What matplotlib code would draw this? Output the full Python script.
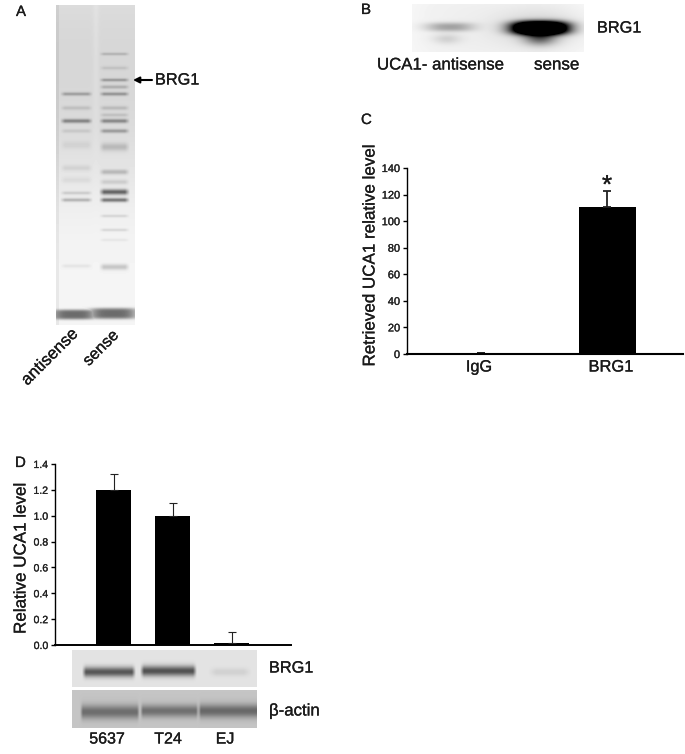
import numpy as np
import matplotlib
matplotlib.use("Agg")
import matplotlib.pyplot as plt
import matplotlib.patheffects as pe

W, H = 685, 754
plt.rcParams['font.family'] = ['Liberation Sans', 'DejaVu Sans']

# --- chart data
c_categories = ["IgG", "BRG1"]
c_values = [0.6, 111]
c_errors = [0.4, 12]
c_ticks = [0, 20, 40, 60, 80, 100, 120, 140]

d_categories = ["5637", "T24", "EJ"]
d_values = [1.2, 1.0, 0.012]
d_errors = [0.12, 0.10, 0.09]
d_ticks = [0.0, 0.2, 0.4, 0.6, 0.8, 1.0, 1.2, 1.4]

# --- estimated gel bands: (y in image px, strength, half thickness)
a_antisense = [(94, .22, 1.8), (108, .10, 2), (121, .34, 2.1), (131, .08, 2), (145, .05, 4),
               (168, .07, 3), (180, .05, 3), (193, .12, 1.7), (200, .22, 1.8), (266, .06, 2)]
a_sense = [(54, .14, 1.5), (68, .08, 1.8), (80, .24, 1.6), (87, .16, 1.8), (94, .26, 1.8), (108, .12, 2),
           (115, .10, 1.8), (121, .32, 2.1), (131, .25, 2), (147, .15, 4), (172, .18, 2.5), (182, .11, 2.5),
           (192, .52, 2.8), (200, .45, 2.1), (216, .10, 1.5), (230, .10, 1.5), (240, .05, 1.5), (267, .18, 3)]


def px_axes(fig, left, top, right, bottom):
    return fig.add_axes([left / W, 1 - bottom / H, (right - left) / W, (bottom - top) / H])


def fs(px):
    return px * 72 / 100


def band(xx, yy, x0, x1, yc, hy, soft=3.0):
    edge = np.clip((xx - x0) / soft, 0, 1) * np.clip((x1 - xx) / soft, 0, 1)
    return edge * np.exp(-((yy - yc) / hy) ** 2)


def blob(xx, yy, xc, yc, hx, hy, p=2):
    return np.exp(-(np.abs((xx - xc) / hx) ** p + np.abs((yy - yc) / hy) ** p))


def show(fig, img, left, top, right, bottom):
    ax = px_axes(fig, left, top, right, bottom)
    ax.imshow(np.clip(img, 0, 1), cmap="gray", vmin=0, vmax=1, aspect="auto",
              interpolation="bilinear", extent=(left, right, bottom, top))
    ax.axis("off")


def grid(left, top, right, bottom):
    return np.meshgrid(np.arange(left, right) + .5, np.arange(top, bottom) + .5)


fig = plt.figure(figsize=(W / 100, H / 100), dpi=100)
over = fig.add_axes([0, 0, 1, 1], zorder=10)
over.set_xlim(0, W)
over.set_ylim(H, 0)
over.axis("off")
over.patch.set_alpha(0)

# --- panel A gel
xx, yy = grid(56, 5, 135, 325)
img = 0.96 - 0.11 * np.exp(-((yy - 40) / 100) ** 2) * (1 - 0.25 * np.exp(-((xx - 96) / 3) ** 2))
img -= 0.05 * np.exp(-((yy - 140) / 70) ** 2)
img[:, :3] -= 0.05
for y, s, h in a_antisense:
    img -= s * band(xx, yy, 60, 93, y, h, 5)
for y, s, h in a_sense:
    img -= s * band(xx, yy, 99, 130, y, h, 5)
mask = np.maximum(blob(xx, yy, 74, 314.5, 22, 5, 4), blob(xx, yy, 113, 313.5, 24, 5.5, 4))
img = img * (1 - mask) + 0.42 * mask
show(fig, img, 56, 5, 135, 325)

# --- panel B blot
xx, yy = grid(412, 4, 584, 52)
img = 0.985 - 0.05 * blob(xx, yy, 498, 28, 90, 40, 4)
img -= 0.30 * blob(xx, yy, 450, 27, 24, 4.5, 2.5)
img -= 0.12 * blob(xx, yy, 447, 39, 14, 5)
img -= 2.2 * blob(xx, yy, 540, 28, 27, 6.5, 2.6)
img -= 0.5 * blob(xx, yy, 540, 38, 16, 7, 2)
img -= 0.12 * blob(xx, yy, 540, 28, 40, 16, 2)
show(fig, img, 412, 4, 584, 52)

# --- panel D blots
xx, yy = grid(72, 650, 257, 687)
img = 0.89 * np.ones_like(xx)
img -= 0.55 * band(xx, yy, 82, 136, 672, 5.0, 4)
img -= 0.57 * band(xx, yy, 140, 197, 671, 5.2, 4)
img -= 0.07 * band(xx, yy, 208, 252, 672, 4, 8)
show(fig, img, 72, 650, 257, 687)

xx, yy = grid(72, 690, 257, 728)
img = 0.77 * np.ones_like(xx)
img -= 0.34 * band(xx, yy, 80, 140, 712, 7, 3)
img -= 0.33 * band(xx, yy, 140, 199, 711, 6.2, 3)
img -= 0.36 * band(xx, yy, 198, 264, 711, 6.8, 3)
show(fig, img, 72, 690, 257, 728)


def bar_axes(left, top, right, bottom, ymax, ticks, labels, pos, width, vals, errs, lw, tick_fs, elw):
    ax = px_axes(fig, left, top, right, bottom)
    ax.patch.set_alpha(0)
    ax.bar(pos, vals, width=width, color="black")
    ax.errorbar(pos, vals, yerr=[[0] * len(vals), errs], fmt="none", ecolor="#222222",
                elinewidth=elw, capsize=3, capthick=elw)
    ax.set_xlim(left, right)
    ax.set_ylim(0, ymax)
    ax.set_yticks(ticks)
    ax.set_yticklabels(labels, fontsize=fs(tick_fs), color="#222222",
                       path_effects=[pe.withStroke(linewidth=0.2, foreground="#222222")])
    ax.set_xticks([])
    ax.tick_params(axis="y", length=3, width=1, pad=2)
    for s in ("top", "right"):
        ax.spines[s].set_visible(False)
    ax.spines["left"].set_linewidth(1)
    ax.spines["bottom"].set_linewidth(lw)
    return ax


# --- panel C chart
bar_axes(407, 168, 683, 354, 140, c_ticks, [str(t) for t in c_ticks],
         [481, 607], 57, c_values, c_errors, 1.5, 11, 1.3)
# --- panel D chart
bar_axes(55, 464, 291, 645, 1.4, d_ticks, [f"{t:.1f}" for t in d_ticks],
         [113.5, 172.5, 231.5], 35, d_values, d_errors, 1.4, 10.5, 0.8)


def t(x, y, s, px, ha="left", va="center", **kw):
    over.text(x, y, s, fontsize=fs(px), ha=ha, va=va, color="#1a1a1a",
              path_effects=[pe.withStroke(linewidth=0.2, foreground="#1a1a1a")], **kw)


# panel letters
t(16, 12, "A", 15)
t(361, 10, "B", 15)
t(361, 120, "C", 15)
t(15, 463, "D", 15)

# panel A text
t(155, 80, "BRG1", 16.3)
over.annotate("", xy=(133, 80), xytext=(152, 80),
              arrowprops=dict(arrowstyle="-|>", color="black", lw=1.5, mutation_scale=9,
                              shrinkA=0, shrinkB=0))
t(50, 357, "antisense", 17, ha="center", rotation=45, rotation_mode="anchor")
t(101, 348, "sense", 16.2, ha="center", rotation=45, rotation_mode="anchor")

# panel B text
t(597, 28, "BRG1", 16.3)
t(377, 65, "UCA1- antisense", 16.8)
t(534, 65, "sense", 17)

# panel C text
t(370, 255, "Retrieved UCA1 relative level", 17, ha="center", rotation=90)
t(479, 367, c_categories[0], 16.3, ha="center")
t(611, 367, c_categories[1], 16.5, ha="center")
t(607, 186, "*", 26, ha="center")

# panel D text
t(21, 558, "Relative UCA1 level", 17, ha="center", rotation=90)
t(269, 668, "BRG1", 16.3)
t(269, 711, "β-actin", 16.8)
for cx, lab in zip([107, 168, 225], d_categories):
    t(cx, 739, lab, 16, ha="center")

fig.savefig("out.png", dpi=100, facecolor="white")
